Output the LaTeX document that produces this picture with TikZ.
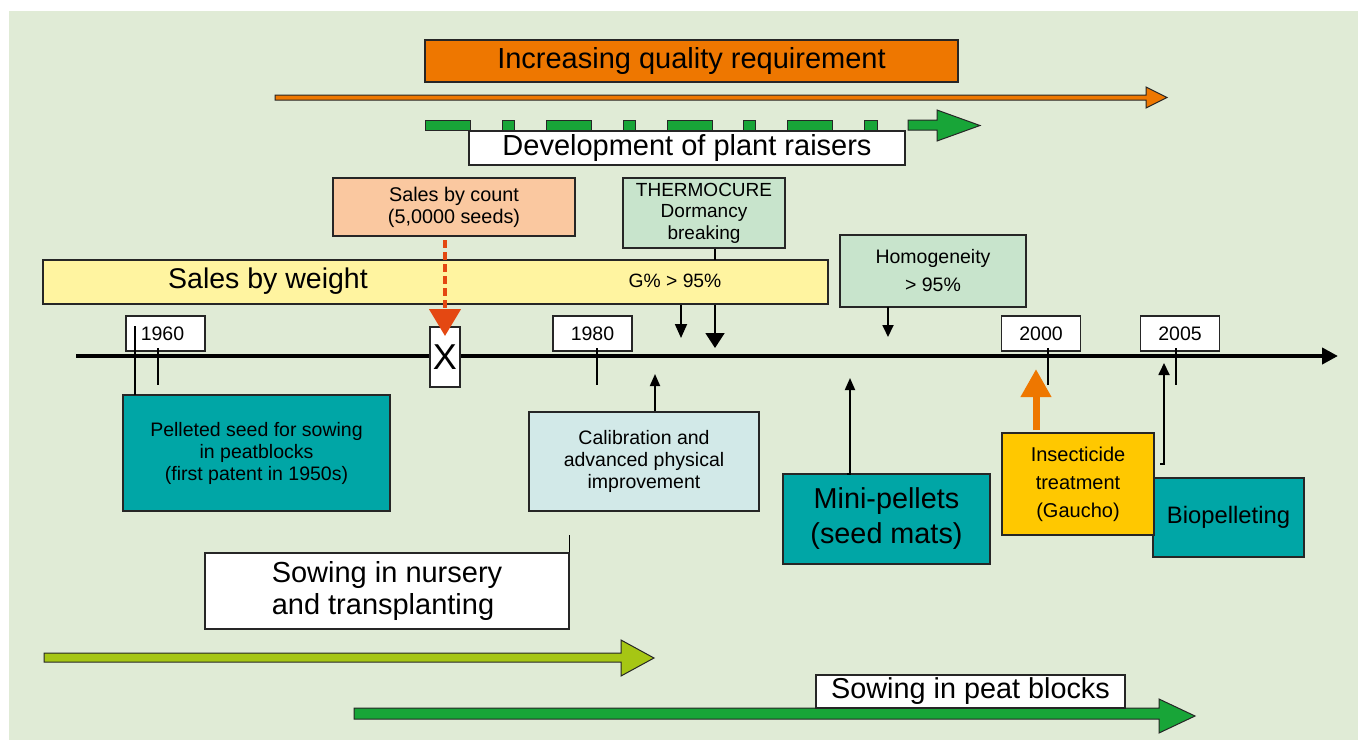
\documentclass[tikz,border=0pt]{standalone}
\usepackage{fontspec}
\setmainfont{Liberation Sans}
\usetikzlibrary{arrows.meta}
\definecolor{bg}{RGB}{224,235,214}
\definecolor{orangeA}{RGB}{238,119,0}
\definecolor{peach}{RGB}{250,200,160}
\definecolor{mintA}{RGB}{200,228,204}
\definecolor{yellowA}{RGB}{255,244,160}
\definecolor{tealA}{RGB}{0,166,166}
\definecolor{cyanA}{RGB}{210,233,232}
\definecolor{goldA}{RGB}{255,200,0}
\definecolor{limeA}{RGB}{166,198,20}
\definecolor{greenA}{RGB}{24,165,56}
\definecolor{redA}{RGB}{228,72,18}
\begin{document}
\begin{tikzpicture}[x=1pt,y=-1pt,
  box/.style={draw=black!85, line width=1.3pt, inner sep=0pt, align=center},
  blockarrow/.style={draw=black!85, line width=1pt, line join=miter},
  bigtxt/.style={font=\fontsize{29}{32}\selectfont},
  smalltxt/.style={font=\fontsize{19.5}{22}\selectfont},
  yr/.style={box, fill=white, minimum width=79pt, minimum height=35pt, font=\fontsize{19.5}{22}\selectfont},
  conn/.style={draw=black, line width=1.8pt},
  tickline/.style={draw=black, line width=2pt}]
\useasboundingbox (0,0) rectangle (1358,740);
\fill[bg] (9,11) rectangle (1358,740);

% --- top: increasing quality requirement
\node[box, fill=orangeA, minimum width=533pt, minimum height=42pt, bigtxt] (qual) at (691.5,61) {Increasing quality requirement};
\filldraw[fill=orangeA, blockarrow] (275,95) -- (1146,95) -- (1146,87) -- (1167,97.5) -- (1146,108) -- (1146,100) -- (275,100) -- cycle;

% --- development of plant raisers (dashed green arrow)
\foreach \a/\b in {425/470, 502/514, 546/591, 623/635, 667/712, 743/755, 787/832, 864/877}
  \filldraw[fill=greenA, blockarrow] (\a,120) rectangle (\b,130);
\filldraw[fill=greenA, blockarrow] (908,120) -- (937,120) -- (937,110) -- (980,125.5) -- (937,141) -- (937,130) -- (908,130) -- cycle;
\node[box, fill=white, minimum width=436pt, minimum height=34pt, bigtxt] (dev) at (687,148) {Development of plant raisers};

% --- upper boxes
\node[box, fill=peach, minimum width=242pt, minimum height=58pt, font=\fontsize{19.8}{22}\selectfont] (count) at (454,207) {Sales by count\\(5,0000 seeds)};
\node[box, fill=mintA, minimum width=162pt, minimum height=70pt, font=\fontsize{19}{21.5}\selectfont] (thermo) at (704,213) {THERMOCURE\\Dormancy\\breaking};
\node[box, fill=yellowA, minimum width=785pt, minimum height=44pt] (weight) at (435.5,282) {};
\node[font=\fontsize{28.5}{32}\selectfont, inner sep=0pt] (wtxt) at (268,281) {Sales by weight};
\node[font=\fontsize{19.3}{22}\selectfont, inner sep=0pt] (gtxt) at (675,281) {G\% > 95\%};
\node[box, fill=mintA, minimum width=186pt, minimum height=72pt, font=\fontsize{19.5}{28}\selectfont] (homog) at (933,271) {Homogeneity\\> 95\%};

% links from upper boxes to the timeline
\coordinate (thb) at (715,260);
\draw[conn] (thermo.south -| thb) -- (thb);
\draw[conn, -{Triangle[length=14pt,width=12pt]}] (681,305) -- (681,338);
\draw[conn, -{Triangle[length=15pt,width=19pt]}] (715,305) -- (715,348);
\draw[conn, -{Triangle[length=12pt,width=11pt]}] (888,307) -- (888,337);

% --- timeline
\coordinate (tl0) at (76,356);
\coordinate (tl1) at (1338,356);
\draw[line width=4pt, -{Triangle[length=16pt,width=16pt]}] (tl0) -- (tl1);

\node[yr] (y1960) at (165.5,333.5) {1960\hspace*{6pt}};
\node[yr] (y1980) at (592.5,333.5) {1980};
\node[yr] (y2000) at (1041,333.5) {2000};
\node[yr] (y2005) at (1180,333.5) {2005};

\foreach \x in {158,597,1048,1176}
  \draw[tickline] (\x,348) -- (\x,385);

\node[box, fill=white, minimum width=30pt, minimum height=60pt, font=\fontsize{36}{38}\selectfont] (xb) at (445,357) {X};
\draw[line width=4.5pt, redA, dash pattern=on 8pt off 4pt, -{Triangle[length=27pt,width=31pt]}] (445,240) -- (445,336);

% --- lower boxes
\node[box, fill=tealA, minimum width=267pt, minimum height=116pt, smalltxt] (pellet) at (256.5,453) {Pelleted seed for sowing\\in peatblocks\\(first patent in 1950s)};
\draw[tickline] (135,326) -- (135,395);

\node[box, fill=cyanA, minimum width=230pt, minimum height=99pt, smalltxt] (calib) at (644,461.5) {Calibration and\\advanced physical\\improvement};
\draw[conn, -{Triangle[length=12pt,width=10pt]}] (calib.north -| 655,0) -- (655,374);

\node[box, fill=white, minimum width=364pt, minimum height=76pt, align=left, font=\fontsize{29}{32}\selectfont] (nurs) at (387,591) {Sowing in nursery\\and transplanting};
\draw[line width=1.5pt] (nurs.north east) -- ++(0,-17);

\node[box, fill=tealA, minimum width=207pt, minimum height=90pt, font=\fontsize{28.8}{35}\selectfont] (mini) at (886.5,519) {Mini-pellets\\(seed mats)};
\draw[conn, -{Triangle[length=12pt,width=10pt]}] (847,474) -- (850,474) -- (850,378);

\node[box, fill=tealA, minimum width=151pt, minimum height=79pt, font=\fontsize{23.8}{26}\selectfont] (bio) at (1228.5,517.5) {Biopelleting};
\node[box, fill=goldA, minimum width=152pt, minimum height=102pt, font=\fontsize{20}{28}\selectfont] (insect) at (1078,484) {Insecticide\\treatment\\(Gaucho)};
\draw[orangeA, line width=7pt, -{Triangle[length=28pt,width=29pt]}] (1036,430) -- (1036,369);
\draw[conn, -{Triangle[length=12pt,width=11pt]}] (1160,464) -- (1164,464) -- (1164,363);

% --- bottom arrows
\filldraw[fill=limeA, blockarrow] (44,653) -- (621,653) -- (621,640) -- (654,658) -- (621,676) -- (621,662) -- (44,662) -- cycle;
\filldraw[fill=greenA, blockarrow] (354,708) -- (1159,708) -- (1159,699) -- (1195,716) -- (1159,733) -- (1159,719) -- (354,719) -- cycle;
\node[box, fill=white, minimum width=309pt, minimum height=33pt, font=\fontsize{28.8}{32}\selectfont] (peat) at (970.5,691.5) {Sowing in peat blocks};
\end{tikzpicture}
\end{document}
